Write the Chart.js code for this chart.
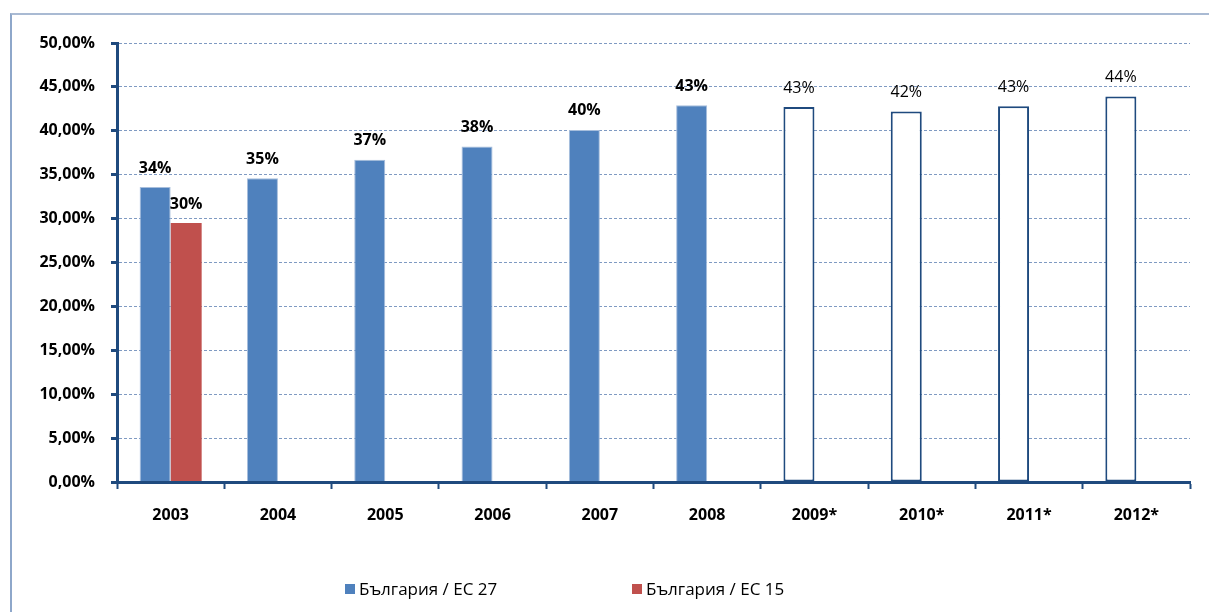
<!DOCTYPE html>
<html>
<head>
<meta charset="utf-8">
<script src="https://cdn.jsdelivr.net/npm/chart.js@4.4.1/dist/chart.umd.min.js"></script>
<style>
  html, body { margin: 0; padding: 0; background: #fff; }
  body { width: 1209px; height: 612px; position: relative; overflow: hidden; font-family: "Open Sans", sans-serif; }
  #frame { position: absolute; left: 10px; top: 13px; width: 1210px; height: 610px;
           border-left: 2px solid #8EA7CA; border-top: 2px solid #A9BAD3; }
  #c { position: absolute; left: 0; top: 0; }
  #legend { position: absolute; left: 345px; top: 577px; display: flex; }
  .item { width: 287px; display: flex; align-items: center; font-size: 17px; color: #000; white-space: nowrap; }
  .box { width: 10px; height: 10px; margin-right: 4px; flex: none; }
</style>
</head>
<body>
<div id="frame"></div>
<canvas id="c" width="1209" height="612"></canvas>
<div id="legend"></div>
<script>
const categories = ['2003', '2004', '2005', '2006', '2007', '2008', '2009*', '2010*', '2011*', '2012*'];
const seriesNames = ['България / ЕС 27', 'България / ЕС 15'];
const bgVsEU27 = [33.6, 34.6, 36.7, 38.2, 40.1, 42.9, 42.7, 42.2, 42.8, 43.9];
const bgVsEU15 = [29.5, null, null, null, null, null, null, null, null, null];
const yMin = 0, yMax = 50, yStep = 5;

const BLUE = '#4F81BD', RED = '#C0504D', DARK = '#1F4A7E', GRID = '#7F9AC2';
const projected = categories.map(c => c.endsWith('*'));

const labelsPlugin = {
  id: 'barLabels',
  afterDatasetsDraw(chart) {
    const ctx = chart.ctx;
    ctx.save();
    ctx.fillStyle = '#000';
    ctx.textAlign = 'center';
    ctx.textBaseline = 'middle';
    chart.data.datasets.forEach((ds, di) => {
      const meta = chart.getDatasetMeta(di);
      meta.data.forEach((bar, i) => {
        const v = ds.data[i];
        if (v === null || v === undefined) return;
        ctx.font = (projected[i] ? '' : 'bold ') + '16px "Open Sans"';
        ctx.fillText(Math.round(v) + '%', bar.x, bar.y - 19);
      });
    });
    ctx.restore();
  }
};

const chart = new Chart(document.getElementById('c'), {
  type: 'bar',
  data: {
    labels: categories,
    datasets: [
      {
        label: seriesNames[0],
        data: bgVsEU27,
        backgroundColor: projected.map(p => p ? '#FFFFFF' : BLUE),
        borderColor: projected.map(p => p ? DARK : '#A7BEDC'),
        borderWidth: projected.map(p => p ? 2 : 1),
        borderSkipped: projected.map(p => p ? false : 'start')
      },
      {
        label: seriesNames[1],
        data: bgVsEU15,
        backgroundColor: RED,
        borderWidth: 0
      }
    ]
  },
  options: {
    responsive: false,
    devicePixelRatio: 1,
    animation: false,
    layout: { padding: { top: 43, right: 19, bottom: 0, left: 0 } },
    datasets: { bar: { barPercentage: 1, categoryPercentage: 0.578 } },
    plugins: { legend: { display: false }, tooltip: { enabled: false } },
    scales: {
      x: {
        grid: { display: true, drawOnChartArea: false, drawTicks: true, offset: true,
                tickLength: 7, tickColor: DARK, tickWidth: 2 },
        border: { display: true, color: DARK, width: 3, z: 1 },
        ticks: { color: '#000', font: { family: '"Open Sans"', size: 16, weight: 'bold' }, padding: 17, maxRotation: 0 },
        afterFit(s) { s.height = 130; }
      },
      y: {
        min: yMin, max: yMax,
        grid: { color: GRID, lineWidth: 1, drawTicks: true, tickLength: 6, tickColor: DARK, tickWidth: 3, tickBorderDash: [] },
        border: { display: true, color: DARK, width: 3, dash: [3, 2], z: 1 },
        ticks: {
          stepSize: yStep, color: '#000', padding: 16,
          font: { family: '"Open Sans"', size: 16, weight: 'bold' },
          callback: v => Number(v).toFixed(2).replace('.', ',') + '%'
        },
        afterFit(s) { s.width = 117; }
      }
    }
  },
  plugins: [labelsPlugin]
});

const legend = document.getElementById('legend');
chart.data.datasets.forEach((ds, i) => {
  const item = document.createElement('div');
  item.className = 'item';
  const box = document.createElement('span');
  box.className = 'box';
  box.style.background = i === 0 ? BLUE : RED;
  const txt = document.createElement('span');
  txt.textContent = ds.label;
  item.appendChild(box);
  item.appendChild(txt);
  legend.appendChild(item);
});
</script>
</body>
</html>
